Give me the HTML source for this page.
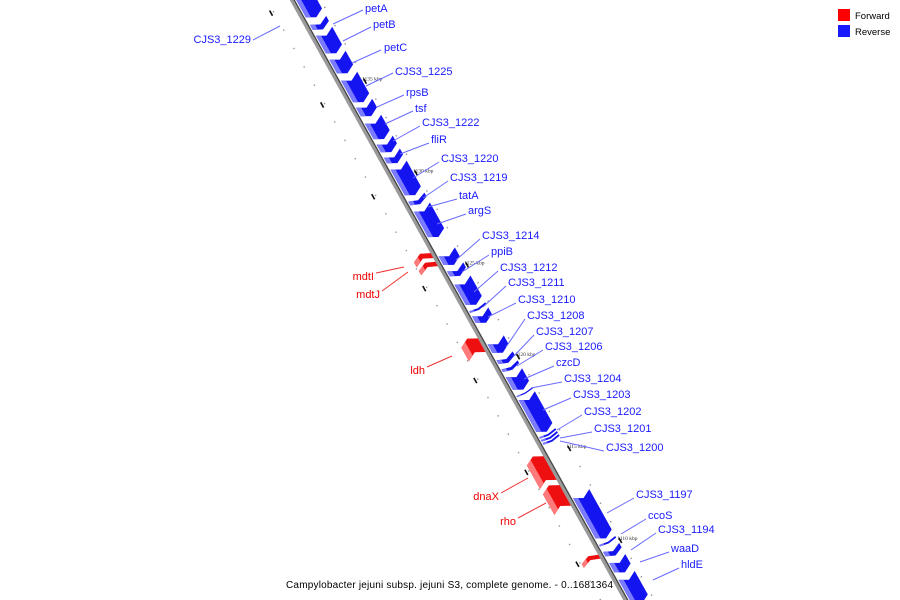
<!DOCTYPE html>
<html><head><meta charset="utf-8"><style>
html,body{margin:0;padding:0;background:#fff;width:900px;height:600px;overflow:hidden;}
svg{display:block;font-family:"Liberation Sans","DejaVu Sans",sans-serif;}
</style></head><body>
<svg id="chart" width="900" height="600" viewBox="0 0 900 600" xmlns="http://www.w3.org/2000/svg">
<g id="track" transform="translate(293.3,0) rotate(60.93)"></g>
<g id="labels"></g>
<g>
 <rect x="838" y="9" width="12" height="12" fill="#ff0000"/>
 <text x="855" y="19" font-size="9.5" fill="#000">Forward</text>
 <rect x="838" y="25" width="12" height="12" fill="#1a1aff"/>
 <text x="855" y="35" font-size="9.5" fill="#000">Reverse</text>
</g>
<text x="286" y="588" font-size="10" textLength="327" fill="#000">Campylobacter jejuni subsp. jejuni S3, complete genome. - 0..1681364</text>
</svg>
<script>
// data: genes (kbp)
const blueNames = ["petA","petB","petC","CJS3_1225","rpsB","tsf","CJS3_1222","fliR","CJS3_1220","CJS3_1219","tatA","argS","CJS3_1214","ppiB","CJS3_1212","CJS3_1211","CJS3_1210","CJS3_1208","CJS3_1207","CJS3_1206","czcD","CJS3_1204","CJS3_1203","CJS3_1202","CJS3_1201","CJS3_1200","CJS3_1197","ccoS","CJS3_1194","waaD","hldE"];
const blueStart = [1140.30,1138.61,1138.02,1136.71,1135.57,1134.10,1133.23,1132.09,1131.39,1130.73,1128.99,1128.45,1126.01,1125.19,1124.48,1123.02,1122.74,1121.22,1120.35,1119.86,1119.43,1118.40,1118.18,1116.17,1116.01,1115.84,1112.85,1110.30,1109.92,1109.32,1108.40];
const blueEnd   = [1138.78,1138.12,1136.82,1135.73,1134.16,1133.40,1132.15,1131.44,1130.84,1129.10,1128.61,1126.82,1125.30,1124.70,1123.13,1122.85,1122.15,1120.52,1119.97,1119.59,1118.51,1118.29,1116.22,1116.01,1115.84,1115.68,1110.41,1110.14,1109.48,1108.56,1106.88];
const redNames = ["mdtI","mdtJ","ldh","dnaX","rho","unnamed"];
const redStart = [1126.55,1126.06,1121.93,1115.51,1113.94,1110.08];
const redEnd   = [1126.06,1125.62,1120.95,1113.99,1112.58,1109.70];
const tickValues = [1140,1135,1130,1125,1120,1115,1110,1105];
const tickLabels = ["","1135 kbp","1130 kbp","1125 kbp","1120 kbp","1115 kbp","1110 kbp",""];

const NS="http://www.w3.org/2000/svg";
const SIN=0.874, COS=0.486, X0=293.3;
function yOf(k){return 92.4+(1135-k)*18.37;}
function sOf(k){return yOf(k)/SIN;}
function toScreen(s,t){return [X0+s*COS - t*SIN, s*SIN + t*COS];}
const track=document.getElementById('track');
const labels=document.getElementById('labels');
function mk(tag,attrs,parent){const e=document.createElementNS(NS,tag);for(const k in attrs)e.setAttribute(k,attrs[k]);parent.appendChild(e);return e;}

// backbone
let bb=mk('line',{x1:-30,y1:1.4,x2:700,y2:1.4,stroke:'#9a9a9a','stroke-width':3.5},track);


let bb2=mk('line',{x1:-30,y1:-0.8,x2:700,y2:-0.8,stroke:'#444','stroke-width':1.3},track);



// ruler dots and dashes
for(let k=1141;k>=1105;k--){
  const s=sOf(k);
  let d1=mk('circle',{cx:s,cy:23,r:0.8,fill:'#999'},track);
  
  
  let d2=mk('circle',{cx:s,cy:-24,r:0.8,fill:'#999'},track);
  
  
}
tickValues.forEach((k,i)=>{
  const s=sOf(k);
  let a=mk('rect',{x:s-3,y:25,width:6,height:1.6,fill:'#111'},track);
  
  
  if(tickLabels[i]){
    let b=mk('rect',{x:s-3,y:-24,width:6,height:1.6,fill:'#111'},track);
    
    
    const p=toScreen(s,-14);
    let t=mk('text',{x:p[0]+5,y:p[1]-5,'font-size':5.5,'font-family':'Liberation Serif, serif',fill:'#333'},labels);
    t.textContent=tickLabels[i];
    
    
  }
});

function gene(s0,s1,t0,t1,dir,body,light,lt0,lt1,name){
  const g=mk('g',{},track);
  
  
  const len=s1-s0, h=Math.min(5,len*0.45), tm=(t0+t1)/2;
  const frac=t=>h*(1-Math.abs(t-tm)/Math.abs(t0-tm));
  let pts, lp;
  if(dir>0){
    pts=[[s0,t0],[s1-h,t0],[s1,tm],[s1-h,t1],[s0,t1],[s0+h,tm]];
    lp=[[s0+frac(lt0),lt0],[s1-h+frac(lt0),lt0],[s1-h+frac(lt1),lt1],[s0+frac(lt1),lt1]];
  } else {
    pts=[[s1,t0],[s0+h,t0],[s0,tm],[s0+h,t1],[s1,t1],[s1-h,tm]];
    lp=[[s1-frac(lt0),lt0],[s0+h-frac(lt0),lt0],[s0+h-frac(lt1),lt1],[s1-frac(lt1),lt1]];
  }
  mk('polygon',{points:pts.map(p=>p.join(',')).join(' '),fill:body},g);
  mk('polygon',{points:lp.map(p=>p.join(',')).join(' '),fill:light},g);
}
blueNames.forEach((n,i)=>{
  gene(sOf(blueStart[i]),sOf(blueEnd[i]),-2.5,-21,1,'#1414f0','#7b7bff',-2.5,-7,n);
});
redNames.forEach((n,i)=>{
  gene(sOf(redStart[i]),sOf(redEnd[i]),3,22,-1,'#ee1010','#ff7a7a',16,22,n);
});

// label layout: [text, x, y, anchor, lx1, ly1, lx2, ly2, color]
const B='#1a1aff', R='#ee0000';
const lab=[
 ["CJS3_1229",251,43,'end',253,40,280,26,B],
 ["petA",365,12,'start',333,24,363,10,B],
 ["petB",373,28,'start',343,41,371,27,B],
 ["petC",384,51,'start',352,63,381,50,B],
 ["CJS3_1225",395,75,'start',366,86,393,73,B],
 ["rpsB",406,96,'start',377,107,404,95,B],
 ["tsf",415,112,'start',385,124,413,111,B],
 ["CJS3_1222",422,126,'start',393,141,420,126,B],
 ["fliR",431,143,'start',400,154,429,143,B],
 ["CJS3_1220",441,162,'start',413,178,439,162,B],
 ["CJS3_1219",450,181,'start',423,198,448,181,B],
 ["tatA",459,199,'start',428,207,457,199,B],
 ["argS",468,214,'start',437,224,466,214,B],
 ["CJS3_1214",482,239,'start',456,260,480,239,B],
 ["ppiB",491,255,'start',462,272,489,255,B],
 ["CJS3_1212",500,271,'start',474,292,498,271,B],
 ["CJS3_1211",508,286,'start',483,307,506,286,B],
 ["CJS3_1210",518,303,'start',488,317,516,303,B],
 ["CJS3_1208",527,319,'start',506,347,525,319,B],
 ["CJS3_1207",536,335,'start',513,357,534,335,B],
 ["CJS3_1206",545,350,'start',517,366,543,350,B],
 ["czcD",556,366,'start',524,379,554,366,B],
 ["CJS3_1204",564,382,'start',531,388,562,382,B],
 ["CJS3_1203",573,398,'start',543,410,571,398,B],
 ["CJS3_1202",584,415,'start',557,430,582,415,B],
 ["CJS3_1201",594,432,'start',560,438,592,432,B],
 ["CJS3_1200",606,451,'start',560,441,604,451,B],
 ["CJS3_1197",636,498,'start',607,513,634,498,B],
 ["ccoS",648,519,'start',621,534,646,519,B],
 ["CJS3_1194",658,533,'start',631,550,656,533,B],
 ["waaD",671,552,'start',640,562,669,552,B],
 ["hldE",681,568,'start',653,580,679,568,B],
 ["mdtI",374,280,'end',376,273,404,267,R],
 ["mdtJ",380,298,'end',382,291,408,272,R],
 ["ldh",425,374,'end',427,367,452,356,R],
 ["dnaX",499,500,'end',501,493,528,478,R],
 ["rho",516,525,'end',518,518,546,503,R]
];
lab.forEach(l=>{
  let ln=mk('line',{x1:l[4],y1:l[5],x2:l[6],y2:l[7],stroke:l[8]==B?'#6a6aff':'#ee3333','stroke-width':1},labels);
  
  
  let t=mk('text',{x:l[1],y:l[2],'font-size':11,'text-anchor':l[3],fill:l[8]},labels);
  t.textContent=l[0];
  
  
});
</script>
</body></html>
